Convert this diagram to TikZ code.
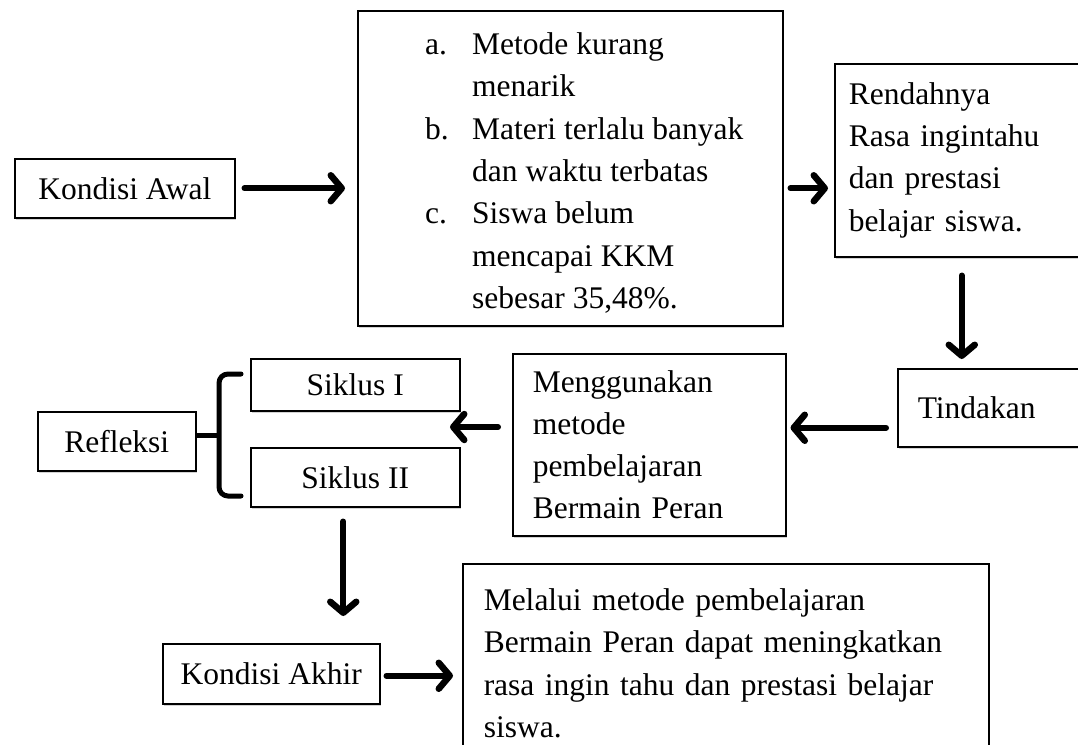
\documentclass[tikz,border=0pt]{standalone}
\usepackage{fontspec}
\setmainfont{Liberation Serif}
\usetikzlibrary{arrows.meta,shadows}
\begin{document}
\begin{tikzpicture}[x=1pt,y=-1pt,
  box/.style={draw, line width=1.5pt, fill=white, inner sep=0pt, anchor=north west,
    drop shadow={shadow xshift=1.5pt, shadow yshift=-2pt, opacity=0.35},
    font=\fontsize{31.5}{42.3}\selectfont},
  lbox/.style={box, align=left},
  txt/.style={inner sep=0pt, align=left, font=\fontsize{31.5}{42.3}\selectfont},
  arr/.style={line width=6pt, line cap=round, -{Straight Barb[length=11pt,width=26pt,line width'=6.5pt,round]}},
  brace/.style={line width=5pt, rounded corners=9pt, line cap=round}
]
\useasboundingbox (0,0) rectangle (1078,744);
\clip (0,0) rectangle (1078,744);

% boxes
\node[box, minimum width=220pt, minimum height=59pt] (awal) at (14,158) {Kondisi Awal};
\node[box, minimum width=425pt, minimum height=315pt] (prob) at (357,10) {};
\node[txt, anchor=west] (probtxt) at (425,173)
  {\makebox[47pt][l]{a.}Metode kurang\\
   \hspace*{47pt}menarik\\
   \makebox[47pt][l]{b.}Materi terlalu banyak\\
   \hspace*{47pt}dan waktu terbatas\\
   \makebox[47pt][l]{c.}Siswa belum\\
   \hspace*{47pt}mencapai KKM\\
   \hspace*{47pt}sebesar 35,48\%.};
\node[lbox, inner xsep=14pt, text width=240pt, minimum height=193pt] (rend) at (834,63)
  {Rendahnya\\ Rasa ingintahu\\ dan prestasi\\ belajar siswa.};
\node[lbox, inner xsep=20pt, text width=160pt, minimum height=78pt] (tind) at (897,368)
  {Tindakan};
\node[lbox, inner xsep=20pt, text width=233pt, minimum height=182pt] (meng) at (512,353)
  {Menggunakan\\ metode\\ pembelajaran\\ Bermain Peran};
\node[box, minimum width=209pt, minimum height=52pt] (s1) at (250,358) {Siklus I};
\node[box, minimum width=209pt, minimum height=59pt] (s2) at (250,447) {Siklus II};
\node[box, minimum width=158pt, minimum height=59pt] (refl) at (37,411) {Refleksi};
\node[box, minimum width=217pt, minimum height=60pt] (akhir) at (162,643) {Kondisi Akhir};
\node[lbox, inner xsep=21pt, text width=484pt, minimum height=199pt] (final) at (462,563)
  {Melalui metode pembelajaran\\ Bermain Peran dapat meningkatkan\\ rasa ingin tahu dan prestasi belajar\\ siswa.};

% brace
\coordinate (btop) at (241,374);
\coordinate (bbot) at (241,496);
\coordinate (bmid) at (219,435);
\draw[brace] (btop) -- (219,374) -- (219,496) -- (bbot);
\draw[line width=5pt] (bmid) -- (bmid -| refl.east);

% connectors
\draw[arr, shorten <=9pt, shorten >=12pt] (awal.east) -- (awal.east -| prob.west);
\draw[arr, shorten <=7pt, shorten >=6pt] (prob.east |- awal.east) -- (awal.east -| rend.west);
\draw[arr, shorten <=18pt, shorten >=9pt] ([xshift=-7pt]rend.south) -- ([xshift=-7pt]rend.south |- tind.north);
\draw[arr, shorten <=11pt, shorten >=4pt] ([yshift=-20pt]tind.west) -- ([yshift=-20pt]tind.west -| meng.east);
\coordinate (gap) at (450,427);
\draw[arr, shorten <=14pt] (gap -| meng.west) -- (gap);
\draw[arr, shorten <=14pt, shorten >=27pt] ([xshift=-12pt]s2.south) -- ([xshift=-12pt]s2.south |- akhir.north);
\draw[arr, shorten <=6pt, shorten >=9pt] ([yshift=-2pt]akhir.east) -- ([yshift=-2pt]akhir.east -| final.west);
\end{tikzpicture}
\end{document}
